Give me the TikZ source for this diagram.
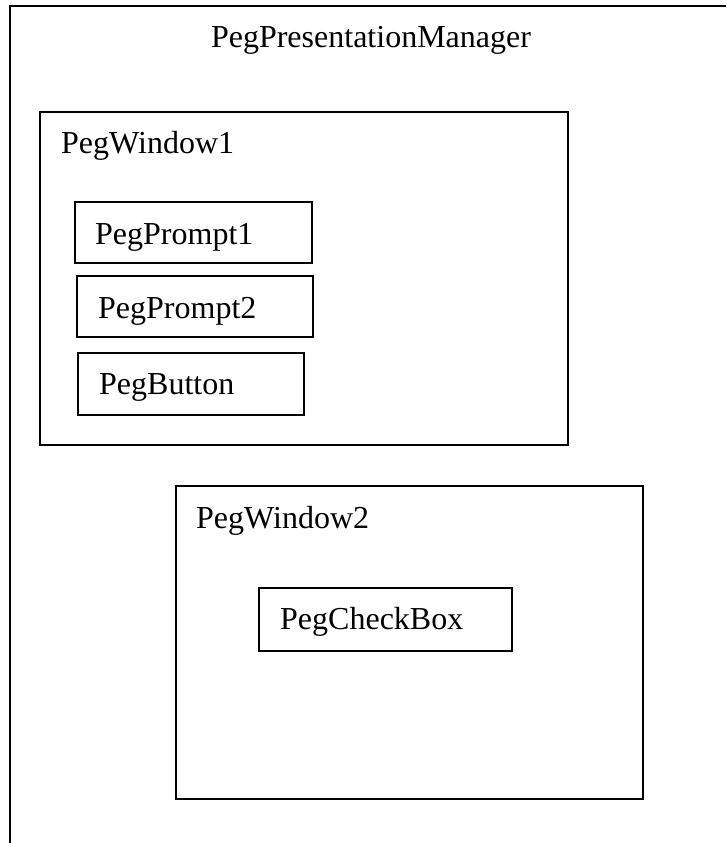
\documentclass[tikz,border=0pt]{standalone}
\usepackage{fontspec}
\setmainfont{Liberation Serif}
\begin{document}
\begin{tikzpicture}[x=1pt,y=-1pt,
  box/.style={draw=black,line width=2.2pt},
  lbl/.style={anchor=base west,inner sep=0pt,font=\fontsize{32}{38}\selectfont}]
\useasboundingbox (0,0) rectangle (726,843);
% outer frame (open at bottom and right)
\draw[line width=2.5pt] (10,843) -- (10,6) -- (726,6);
\node[anchor=base,inner sep=0pt,font=\fontsize{32}{38}\selectfont] (title) at (371,48) {PegPresentationManager};
% window 1
\draw[box] (40,112) rectangle (568,445);
\node[lbl] (w1) at (61,153) {PegWindow1};
\draw[box] (75,202) rectangle (312,263);
\node[lbl] (p1) at (95,244) {PegPrompt1};
\draw[box] (77,276) rectangle (313,337);
\node[lbl] (p2) at (98,318) {PegPrompt2};
\draw[box] (78,353) rectangle (304,415);
\node[lbl] (b1) at (99,394) {PegButton};
% window 2
\draw[box] (176,486) rectangle (643,799);
\node[lbl] (w2) at (196,528) {PegWindow2};
\draw[box] (259,588) rectangle (512,651);
\node[lbl] (cb) at (280,629) {PegCheckBox};
\end{tikzpicture}
\end{document}
